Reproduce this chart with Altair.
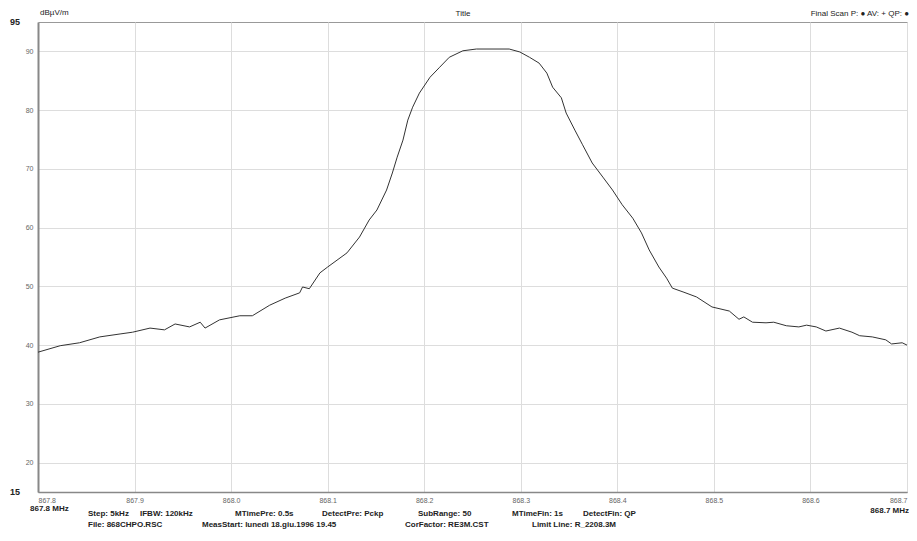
import altair as alt
import pandas as pd

# ---- data ----
freq_mhz = [867.800, 867.823, 867.843, 867.864, 867.885, 867.898, 867.916, 867.931, 867.942, 867.957,
            867.968, 867.973, 867.988, 868.009, 868.022, 868.040, 868.056, 868.071, 868.074, 868.081,
            868.092, 868.100, 868.120, 868.133, 868.143, 868.151, 868.161, 868.167, 868.172, 868.178,
            868.183, 868.188, 868.195, 868.206, 868.216, 868.226, 868.240, 868.254, 868.288, 868.299,
            868.309, 868.319, 868.327, 868.333, 868.342, 868.347, 868.356, 868.364, 868.374, 868.385,
            868.395, 868.405, 868.416, 868.425, 868.433, 868.443, 868.451, 868.457, 868.469, 868.482,
            868.498, 868.516, 868.526, 868.531, 868.540, 868.554, 868.562, 868.575, 868.588, 868.596,
            868.606, 868.616, 868.630, 868.643, 868.651, 868.664, 868.678, 868.684, 868.695, 868.700]
level_db = [38.8, 39.9, 40.4, 41.4, 41.9, 42.2, 42.9, 42.6, 43.6, 43.1,
            43.9, 42.9, 44.3, 45.0, 45.0, 46.8, 48.0, 48.9, 49.9, 49.6,
            52.3, 53.3, 55.7, 58.4, 61.3, 63.0, 66.4, 69.3, 72.0, 74.9,
            78.3, 80.5, 82.9, 85.6, 87.3, 89.0, 90.1, 90.4, 90.4, 89.9,
            89.0, 88.0, 86.3, 83.9, 82.1, 79.5, 76.6, 74.1, 71.0, 68.6,
            66.4, 63.9, 61.6, 59.1, 56.2, 53.3, 51.4, 49.7, 49.0, 48.2,
            46.5, 45.8, 44.4, 44.8, 43.9, 43.8, 43.9, 43.3, 43.1, 43.4,
            43.1, 42.4, 42.9, 42.2, 41.6, 41.4, 40.9, 40.2, 40.4, 40.0]

x_ticks = [867.8, 867.9, 868.0, 868.1, 868.2, 868.3, 868.4, 868.5, 868.6, 868.7]
y_ticks = [20, 30, 40, 50, 60, 70, 80, 90]
y_limits = [15, 95]
x_limits = [867.8, 868.7]

unit_label = "dBµV/m"
title_text = "Title"
legend_text = "Final Scan P: ●  AV: +  QP: ●"
x_start_label = "867.8 MHz"
x_end_label = "868.7 MHz"
footer_line1 = ["Step: 5kHz", "IFBW: 120kHz", "MTimePre: 0.5s", "DetectPre: Pckp",
                "SubRange: 50", "MTimeFin: 1s", "DetectFin: QP"]
footer_line2 = ["File: 868CHPO.RSC", "MeasStart: lunedì 18.giu.1996  19.45",
                "CorFactor: RE3M.CST", "Limit Line: R_2208.3M"]

# ---- layout (pixels) ----
W, H = 869, 470
FONT = "Liberation Sans Narrow, Liberation Sans, Arial"
line1_x = [50, 102, 197, 284, 380, 474, 545]
line2_x = [50, 164, 367, 494]

df = pd.DataFrame({"freq": freq_mhz, "level": level_db})

xscale = alt.Scale(domain=x_limits, nice=False, zero=False)
yscale = alt.Scale(domain=y_limits, nice=False, zero=False)

trace = alt.Chart(df).mark_line(color="#333333", strokeWidth=1, interpolate="linear").encode(
    x=alt.X("freq:Q", scale=xscale,
            axis=alt.Axis(values=x_ticks, format=".1f", title=None, grid=True, ticks=False,
                          labelFontSize=7, labelColor="#666666", labelFont=FONT,
                          labelPadding=4, domain=True, domainColor="#888888", domainWidth=1.5,
                          gridColor="#dddddd", labelOverlap=False)),
    y=alt.Y("level:Q", scale=yscale,
            axis=alt.Axis(values=y_ticks, format="d", title=None, grid=True, ticks=False,
                          labelFontSize=7, labelColor="#666666", labelFont=FONT,
                          labelPadding=5, domain=True, domainColor="#888888", domainWidth=2,
                          gridColor="#dddddd")),
)

# bold y-limit labels
ylim_df = pd.DataFrame({"level": y_limits, "lab": [str(v) for v in y_limits]})
ylim = alt.Chart(ylim_df).mark_text(font=FONT, fontSize=9, fontWeight="bold", color="#222222",
                                    align="center", baseline="middle").encode(
    x=alt.value(-23), y=alt.Y("level:Q", scale=yscale), text="lab:N")

def txt(s, x, y, align="left", size=8, weight="bold", color="#222222", baseline="middle"):
    return alt.Chart(pd.DataFrame({"t": [s]})).mark_text(
        font=FONT, fontSize=size, fontWeight=weight, color=color, align=align, baseline=baseline
    ).encode(x=alt.value(x), y=alt.value(y), text="t:N")

layers = [trace, ylim,
          txt(unit_label, 2, -13, size=8, weight="normal", baseline="top"),
          txt(title_text, 425, -12, align="center", size=8, weight="normal", baseline="top"),
          txt(legend_text, 871, -12, align="right", size=8, weight="normal", baseline="top"),
          txt(x_start_label, -8, 487, size=8),
          txt(x_end_label, 871, 489, align="right", size=8)]

f1 = pd.DataFrame({"t": footer_line1, "px": line1_x})
f2 = pd.DataFrame({"t": footer_line2, "px": line2_x})
for fdf, yy in ((f1, 492), (f2, 503)):
    layers.append(alt.Chart(fdf).mark_text(font=FONT, fontSize=8, fontWeight="bold", color="#222222",
                                           align="left", baseline="middle").encode(
        x=alt.X("px:Q", scale=None), y=alt.value(yy), text="t:N"))

chart = alt.layer(*layers).properties(
    width=W, height=H,
    autosize=alt.AutoSizeParams(type="none"),
    padding={"left": 30, "top": 14, "right": 2, "bottom": 39},
    background="white",
).configure_view(stroke="#999999", strokeWidth=1)

chart.save("out.html", embed_options={"renderer": "svg", "actions": False})
